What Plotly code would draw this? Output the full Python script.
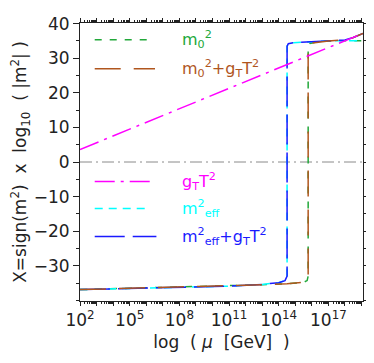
import plotly.graph_objects as go

# scale mu in GeV (log axis), values X = sign(m^2) * log10(|m^2|)
mu_m0 = [1e2, 1e5, 1e8, 1e11, 1e13, 3.2e14, 3.2e15, 5.2e15, 6.0e15, 6.0e15, 7.5e15, 3.2e16, 3.2e17, 1.23e19]
x_m0 = [-36.9, -36.5, -36.2, -35.9, -35.5, -35.2, -34.8, -34.3, -33.0, 33.0, 34.3, 34.9, 35.1, 35.1]

mu_m0gt = [1e2, 1e5, 1e8, 1e11, 1e13, 3.2e14, 3.2e15, 5.2e15, 6.0e15, 6.0e15, 7e15, 1e16, 3.2e16, 1e17, 1e18, 3.2e18, 1.23e19]
x_m0gt = [-36.9, -36.5, -36.2, -35.9, -35.5, -35.2, -34.8, -34.3, -33.0, 33.6, 34.1, 34.4, 34.7, 35.0, 35.3, 36.0, 37.2]

mu_gt = [1e2, 1e19, 1.23e19]
x_gt = [3.6, 37.0, 37.2]

mu_meff = [1e2, 1e5, 1e8, 1e11, 1e13, 1e14, 2.4e14, 3.2e14, 3.2e14, 3.8e14, 8e14, 1e16, 1e17, 1e18, 1.23e19]
x_meff = [-36.9, -36.5, -36.2, -35.9, -35.4, -34.9, -34.3, -33.0, 33.5, 34.2, 34.5, 34.8, 35.0, 35.1, 35.1]

mu_meffgt = [1e2, 1e5, 1e8, 1e11, 1e13, 1e14, 2.4e14, 3.2e14, 3.2e14, 3.8e14, 8e14, 1e16, 1e17, 1e18, 3.2e18, 1.23e19]
x_meffgt = [-36.9, -36.5, -36.2, -35.9, -35.4, -34.9, -34.3, -33.0, 33.5, 34.2, 34.5, 34.8, 35.0, 35.3, 36.0, 37.2]

tick_exp = list(range(2, 20))
label_exp = [2, 5, 8, 11, 14, 17]

GREEN = "#22a83a"
BROWN = "#b0561e"
MAGENTA = "#ff00ff"
CYAN = "#00ffff"
BLUE = "#1a1aff"
FONT = "DejaVu Sans"

fig = go.Figure()
fig.add_trace(go.Scatter(x=mu_m0, y=x_m0, mode="lines", line=dict(color=GREEN, width=1.5, dash="7px,8px")))
fig.add_trace(go.Scatter(x=mu_meff, y=x_meff, mode="lines", line=dict(color=CYAN, width=1.5, dash="8px,6px")))
fig.add_trace(go.Scatter(x=mu_meffgt, y=x_meffgt, mode="lines", line=dict(color=BLUE, width=1.5, dash="30px,8px")))
fig.add_trace(go.Scatter(x=mu_m0gt, y=x_m0gt, mode="lines", line=dict(color=BROWN, width=1.5, dash="26px,13px")))
fig.add_trace(go.Scatter(x=mu_gt, y=x_gt, mode="lines", line=dict(color=MAGENTA, width=1.5, dash="20px,6px,3px,6px")))

# zero line
fig.add_shape(type="line", xref="paper", yref="y", x0=0, x1=1, y0=0, y1=0,
              line=dict(color="#8a8a8a", width=1, dash="12px,4px,2px,4px"), layer="below")

# hand-made legend (two groups)
legend_items = [
    (0.94, GREEN, "7px,8px", 0.245, "m<sub>0</sub><sup>2</sup>"),
    (0.835, BROWN, "26px,13px", 0.265, "m<sub>0</sub><sup>2</sup>+g<sub>T</sub>T<sup>2</sup>"),
    (0.43, MAGENTA, "20px,6px,3px,6px", 0.255, "g<sub>T</sub>T<sup>2</sup>"),
    (0.333, CYAN, "8px,6px", 0.245, "m<sup>2</sup><sub>eff</sub>"),
    (0.232, BLUE, "30px,8px", 0.27, "m<sup>2</sup><sub>eff</sub>+g<sub>T</sub>T<sup>2</sup>"),
]
for yy, col, dash, x1, txt in legend_items:
    fig.add_shape(type="line", xref="paper", yref="paper", x0=0.052, x1=x1, y0=yy, y1=yy,
                  line=dict(color=col, width=1.5, dash=dash))
    fig.add_annotation(xref="paper", yref="paper", x=0.355, y=yy, text=txt, showarrow=False,
                       xanchor="left", yanchor="middle", font=dict(family=FONT, size=16, color=col))

# page body has an 8px margin, so the margins below are shifted by 8px
fig.update_layout(
    width=374, height=363,
    margin=dict(l=69, r=19, t=6, b=70),
    plot_bgcolor="white", paper_bgcolor="white",
    showlegend=False,
    font=dict(family=FONT, size=16, color="#222"),
    xaxis=dict(
        type="log", range=[2, 19.09],
        tickmode="array",
        tickvals=[10.0 ** e for e in tick_exp],
        ticktext=[f"10<sup>{e}</sup>" if e in label_exp else "" for e in tick_exp],
        ticks="outside", ticklen=4, tickwidth=1, tickcolor="#222",
        minor=dict(tickmode="array",
                   tickvals=[k * 10.0 ** e for e in range(2, 19) for k in range(2, 10)],
                   ticks="outside", ticklen=2, tickwidth=1, tickcolor="#222"),
        showline=True, linecolor="#222", linewidth=1, mirror="allticks",
        showgrid=False, zeroline=False,
        tickfont=dict(size=17),
        title=dict(text="log  ( <i>μ</i>  [GeV]  )", standoff=6, font=dict(size=17)),
    ),
    yaxis=dict(
        range=[-40.2, 40.2],
        tickmode="array", tickvals=[-30, -20, -10, 0, 10, 20, 30, 40],
        ticks="outside", ticklen=6, tickwidth=1, tickcolor="#222",
        minor=dict(dtick=5, ticks="outside", ticklen=3, tickwidth=1, tickcolor="#222"),
        showline=True, linecolor="#222", linewidth=1, mirror="allticks",
        showgrid=False, zeroline=False,
        tickfont=dict(size=17),
        title=dict(text="X=sign(m<sup>2</sup>)  x  log<sub>10</sub>  ( |m<sup>2</sup>| )", standoff=8,
                   font=dict(size=17)),
    ),
)

fig.write_html("out.html")
